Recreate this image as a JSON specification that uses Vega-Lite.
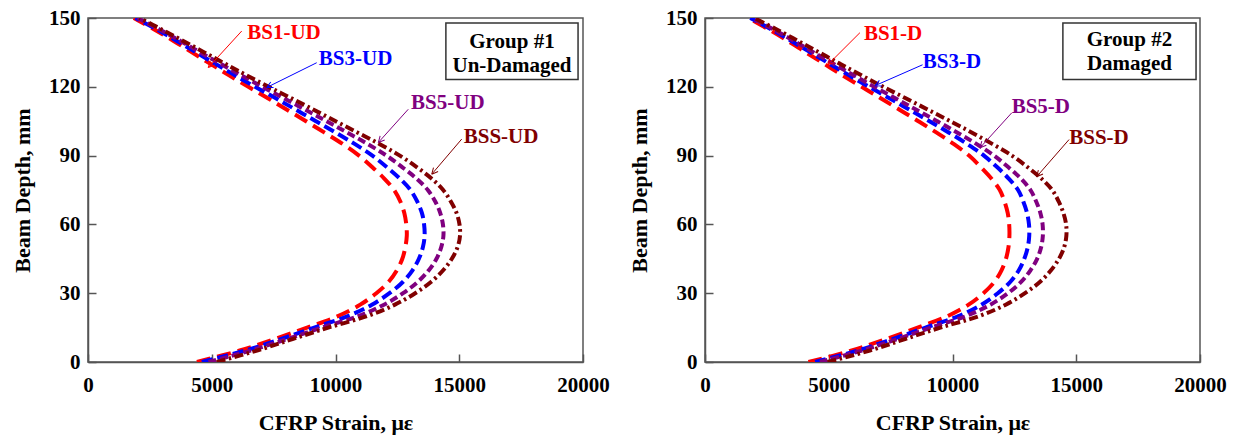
{
  "$schema": "https://vega.github.io/schema/vega-lite/v6.json",
  "padding": {"left": 10, "top": 6, "right": 5, "bottom": 5},
  "spacing": 122,
  "bounds": "flush",
  "datasets": {
    "ud": [
      {"series":"BS1","depth":0,"strain":4400},{"series":"BS1","depth":5,"strain":6130},{"series":"BS1","depth":10,"strain":7550},{"series":"BS1","depth":15,"strain":8850},{"series":"BS1","depth":20,"strain":10100},{"series":"BS1","depth":25,"strain":11000},{"series":"BS1","depth":30,"strain":11650},{"series":"BS1","depth":35,"strain":12150},{"series":"BS1","depth":40,"strain":12480},{"series":"BS1","depth":45,"strain":12700},{"series":"BS1","depth":50,"strain":12820},{"series":"BS1","depth":55,"strain":12880},{"series":"BS1","depth":60,"strain":12860},{"series":"BS1","depth":65,"strain":12780},{"series":"BS1","depth":70,"strain":12620},{"series":"BS1","depth":75,"strain":12370},{"series":"BS1","depth":80,"strain":11970},{"series":"BS1","depth":85,"strain":11480},{"series":"BS1","depth":90,"strain":10950},{"series":"BS1","depth":95,"strain":10300},{"series":"BS1","depth":100,"strain":9560},{"series":"BS1","depth":105,"strain":8810},{"series":"BS1","depth":110,"strain":8040},{"series":"BS1","depth":115,"strain":7270},{"series":"BS1","depth":120,"strain":6480},{"series":"BS1","depth":125,"strain":5700},{"series":"BS1","depth":130,"strain":4950},{"series":"BS1","depth":135,"strain":4200},{"series":"BS1","depth":140,"strain":3460},{"series":"BS1","depth":145,"strain":2680},{"series":"BS1","depth":150,"strain":1850},
      {"series":"BS3","depth":0,"strain":4600},{"series":"BS3","depth":5,"strain":6350},{"series":"BS3","depth":10,"strain":7790},{"series":"BS3","depth":15,"strain":9140},{"series":"BS3","depth":20,"strain":10500},{"series":"BS3","depth":25,"strain":11470},{"series":"BS3","depth":30,"strain":12180},{"series":"BS3","depth":35,"strain":12730},{"series":"BS3","depth":40,"strain":13110},{"series":"BS3","depth":45,"strain":13370},{"series":"BS3","depth":50,"strain":13530},{"series":"BS3","depth":55,"strain":13600},{"series":"BS3","depth":60,"strain":13580},{"series":"BS3","depth":65,"strain":13490},{"series":"BS3","depth":70,"strain":13300},{"series":"BS3","depth":75,"strain":13030},{"series":"BS3","depth":80,"strain":12600},{"series":"BS3","depth":85,"strain":12070},{"series":"BS3","depth":90,"strain":11490},{"series":"BS3","depth":95,"strain":10790},{"series":"BS3","depth":100,"strain":10010},{"series":"BS3","depth":105,"strain":9210},{"series":"BS3","depth":110,"strain":8400},{"series":"BS3","depth":115,"strain":7590},{"series":"BS3","depth":120,"strain":6750},{"series":"BS3","depth":125,"strain":5940},{"series":"BS3","depth":130,"strain":5150},{"series":"BS3","depth":135,"strain":4370},{"series":"BS3","depth":140,"strain":3590},{"series":"BS3","depth":145,"strain":2780},{"series":"BS3","depth":150,"strain":1920},
      {"series":"BS5","depth":0,"strain":4870},{"series":"BS5","depth":5,"strain":6570},{"series":"BS5","depth":10,"strain":8040},{"series":"BS5","depth":15,"strain":9440},{"series":"BS5","depth":20,"strain":10910},{"series":"BS5","depth":25,"strain":11960},{"series":"BS5","depth":30,"strain":12730},{"series":"BS5","depth":35,"strain":13330},{"series":"BS5","depth":40,"strain":13770},{"series":"BS5","depth":45,"strain":14080},{"series":"BS5","depth":50,"strain":14270},{"series":"BS5","depth":55,"strain":14360},{"series":"BS5","depth":60,"strain":14340},{"series":"BS5","depth":65,"strain":14230},{"series":"BS5","depth":70,"strain":14030},{"series":"BS5","depth":75,"strain":13730},{"series":"BS5","depth":80,"strain":13270},{"series":"BS5","depth":85,"strain":12690},{"series":"BS5","depth":90,"strain":12060},{"series":"BS5","depth":95,"strain":11310},{"series":"BS5","depth":100,"strain":10480},{"series":"BS5","depth":105,"strain":9640},{"series":"BS5","depth":110,"strain":8780},{"series":"BS5","depth":115,"strain":7920},{"series":"BS5","depth":120,"strain":7040},{"series":"BS5","depth":125,"strain":6190},{"series":"BS5","depth":130,"strain":5360},{"series":"BS5","depth":135,"strain":4540},{"series":"BS5","depth":140,"strain":3730},{"series":"BS5","depth":145,"strain":2890},{"series":"BS5","depth":150,"strain":2000},
      {"series":"BSS","depth":0,"strain":5200},{"series":"BSS","depth":5,"strain":6830},{"series":"BSS","depth":10,"strain":8260},{"series":"BSS","depth":15,"strain":9710},{"series":"BSS","depth":20,"strain":11280},{"series":"BSS","depth":25,"strain":12400},{"series":"BSS","depth":30,"strain":13220},{"series":"BSS","depth":35,"strain":13870},{"series":"BSS","depth":40,"strain":14350},{"series":"BSS","depth":45,"strain":14700},{"series":"BSS","depth":50,"strain":14930},{"series":"BSS","depth":55,"strain":15030},{"series":"BSS","depth":60,"strain":15010},{"series":"BSS","depth":65,"strain":14890},{"series":"BSS","depth":70,"strain":14660},{"series":"BSS","depth":75,"strain":14350},{"series":"BSS","depth":80,"strain":13880},{"series":"BSS","depth":85,"strain":13280},{"series":"BSS","depth":90,"strain":12600},{"series":"BSS","depth":95,"strain":11790},{"series":"BSS","depth":100,"strain":10900},{"series":"BSS","depth":105,"strain":10010},{"series":"BSS","depth":110,"strain":9120},{"series":"BSS","depth":115,"strain":8220},{"series":"BSS","depth":120,"strain":7300},{"series":"BSS","depth":125,"strain":6410},{"series":"BSS","depth":130,"strain":5550},{"series":"BSS","depth":135,"strain":4700},{"series":"BSS","depth":140,"strain":3850},{"series":"BSS","depth":145,"strain":2980},{"series":"BSS","depth":150,"strain":2080}
    ],
    "dm": [
      {"series":"BS1","depth":0,"strain":4180},{"series":"BS1","depth":5,"strain":5930},{"series":"BS1","depth":10,"strain":7320},{"series":"BS1","depth":15,"strain":8590},{"series":"BS1","depth":20,"strain":9800},{"series":"BS1","depth":25,"strain":10650},{"series":"BS1","depth":30,"strain":11250},{"series":"BS1","depth":35,"strain":11700},{"series":"BS1","depth":40,"strain":11980},{"series":"BS1","depth":45,"strain":12160},{"series":"BS1","depth":50,"strain":12260},{"series":"BS1","depth":55,"strain":12300},{"series":"BS1","depth":60,"strain":12290},{"series":"BS1","depth":65,"strain":12230},{"series":"BS1","depth":70,"strain":12100},{"series":"BS1","depth":75,"strain":11910},{"series":"BS1","depth":80,"strain":11570},{"series":"BS1","depth":85,"strain":11140},{"series":"BS1","depth":90,"strain":10670},{"series":"BS1","depth":95,"strain":10060},{"series":"BS1","depth":100,"strain":9360},{"series":"BS1","depth":105,"strain":8620},{"series":"BS1","depth":110,"strain":7860},{"series":"BS1","depth":115,"strain":7100},{"series":"BS1","depth":120,"strain":6330},{"series":"BS1","depth":125,"strain":5560},{"series":"BS1","depth":130,"strain":4820},{"series":"BS1","depth":135,"strain":4080},{"series":"BS1","depth":140,"strain":3350},{"series":"BS1","depth":145,"strain":2580},{"series":"BS1","depth":150,"strain":1750},
      {"series":"BS3","depth":0,"strain":4450},{"series":"BS3","depth":5,"strain":6170},{"series":"BS3","depth":10,"strain":7580},{"series":"BS3","depth":15,"strain":8910},{"series":"BS3","depth":20,"strain":10240},{"series":"BS3","depth":25,"strain":11170},{"series":"BS3","depth":30,"strain":11830},{"series":"BS3","depth":35,"strain":12340},{"series":"BS3","depth":40,"strain":12680},{"series":"BS3","depth":45,"strain":12900},{"series":"BS3","depth":50,"strain":13040},{"series":"BS3","depth":55,"strain":13100},{"series":"BS3","depth":60,"strain":13090},{"series":"BS3","depth":65,"strain":13010},{"series":"BS3","depth":70,"strain":12860},{"series":"BS3","depth":75,"strain":12650},{"series":"BS3","depth":80,"strain":12270},{"series":"BS3","depth":85,"strain":11800},{"series":"BS3","depth":90,"strain":11270},{"series":"BS3","depth":95,"strain":10600},{"series":"BS3","depth":100,"strain":9860},{"series":"BS3","depth":105,"strain":9070},{"series":"BS3","depth":110,"strain":8260},{"series":"BS3","depth":115,"strain":7450},{"series":"BS3","depth":120,"strain":6630},{"series":"BS3","depth":125,"strain":5820},{"series":"BS3","depth":130,"strain":5040},{"series":"BS3","depth":135,"strain":4260},{"series":"BS3","depth":140,"strain":3490},{"series":"BS3","depth":145,"strain":2690},{"series":"BS3","depth":150,"strain":1830},
      {"series":"BS5","depth":0,"strain":4640},{"series":"BS5","depth":5,"strain":6340},{"series":"BS5","depth":10,"strain":7770},{"series":"BS5","depth":15,"strain":9130},{"series":"BS5","depth":20,"strain":10540},{"series":"BS5","depth":25,"strain":11530},{"series":"BS5","depth":30,"strain":12240},{"series":"BS5","depth":35,"strain":12780},{"series":"BS5","depth":40,"strain":13150},{"series":"BS5","depth":45,"strain":13420},{"series":"BS5","depth":50,"strain":13580},{"series":"BS5","depth":55,"strain":13650},{"series":"BS5","depth":60,"strain":13640},{"series":"BS5","depth":65,"strain":13550},{"series":"BS5","depth":70,"strain":13380},{"series":"BS5","depth":75,"strain":13150},{"series":"BS5","depth":80,"strain":12760},{"series":"BS5","depth":85,"strain":12250},{"series":"BS5","depth":90,"strain":11680},{"series":"BS5","depth":95,"strain":10980},{"series":"BS5","depth":100,"strain":10200},{"series":"BS5","depth":105,"strain":9380},{"series":"BS5","depth":110,"strain":8540},{"series":"BS5","depth":115,"strain":7690},{"series":"BS5","depth":120,"strain":6840},{"series":"BS5","depth":125,"strain":6010},{"series":"BS5","depth":130,"strain":5200},{"series":"BS5","depth":135,"strain":4390},{"series":"BS5","depth":140,"strain":3590},{"series":"BS5","depth":145,"strain":2770},{"series":"BS5","depth":150,"strain":1900},
      {"series":"BSS","depth":0,"strain":4950},{"series":"BSS","depth":5,"strain":6660},{"series":"BSS","depth":10,"strain":8080},{"series":"BSS","depth":15,"strain":9510},{"series":"BSS","depth":20,"strain":11070},{"series":"BSS","depth":25,"strain":12150},{"series":"BSS","depth":30,"strain":12930},{"series":"BSS","depth":35,"strain":13540},{"series":"BSS","depth":40,"strain":13980},{"series":"BSS","depth":45,"strain":14300},{"series":"BSS","depth":50,"strain":14510},{"series":"BSS","depth":55,"strain":14600},{"series":"BSS","depth":60,"strain":14590},{"series":"BSS","depth":65,"strain":14480},{"series":"BSS","depth":70,"strain":14290},{"series":"BSS","depth":75,"strain":14030},{"series":"BSS","depth":80,"strain":13590},{"series":"BSS","depth":85,"strain":13030},{"series":"BSS","depth":90,"strain":12400},{"series":"BSS","depth":95,"strain":11620},{"series":"BSS","depth":100,"strain":10790},{"series":"BSS","depth":105,"strain":9910},{"series":"BSS","depth":110,"strain":9010},{"series":"BSS","depth":115,"strain":8110},{"series":"BSS","depth":120,"strain":7200},{"series":"BSS","depth":125,"strain":6320},{"series":"BSS","depth":130,"strain":5460},{"series":"BSS","depth":135,"strain":4610},{"series":"BSS","depth":140,"strain":3760},{"series":"BSS","depth":145,"strain":2900},{"series":"BSS","depth":150,"strain":1990}
    ],
    "lab_ud": [
      {"series":"BS1","text":"BS1-UD","strain":7920,"depth":143.6},
      {"series":"BS3","text":"BS3-UD","strain":10810,"depth":132.1},
      {"series":"BS5","text":"BS5-UD","strain":14540,"depth":112.8},
      {"series":"BSS","text":"BSS-UD","strain":16690,"depth":98.2}
    ],
    "arr_ud": [
      {"series":"BS1","strain":6210,"depth":144.3,"strain2":4860,"depth2":128.4,"ang":132},
      {"series":"BS3","strain":9240,"depth":130.5,"strain2":7220,"depth2":119.7,"ang":153},
      {"series":"BS5","strain":12940,"depth":110.2,"strain2":11730,"depth2":95.7,"ang":132},
      {"series":"BSS","strain":15100,"depth":97.2,"strain2":13890,"depth2":81.9,"ang":131}
    ],
    "lab_dm": [
      {"series":"BS1","text":"BS1-D","strain":7600,"depth":143.0},
      {"series":"BS3","text":"BS3-D","strain":9980,"depth":130.6},
      {"series":"BS5","text":"BS5-D","strain":13570,"depth":111.2},
      {"series":"BSS","text":"BSS-D","strain":15920,"depth":97.7}
    ],
    "arr_dm": [
      {"series":"BS1","strain":6260,"depth":143.6,"strain2":4960,"depth2":129.6,"ang":135},
      {"series":"BS3","strain":8790,"depth":129.6,"strain2":6870,"depth2":120.5,"ang":156},
      {"series":"BS5","strain":12390,"depth":108.6,"strain2":11110,"depth2":93.4,"ang":132},
      {"series":"BSS","strain":14710,"depth":97.0,"strain2":13400,"depth2":80.8,"ang":131}
    ],
    "box_ud": [{"strain":14460,"strain2":19800,"depth":147.8,"depth2":123.2,"l1":"Group #1","l2":"Un-Damaged","mid":17130,"d1":139.7,"d2":129.1}],
    "box_dm": [{"strain":14460,"strain2":19840,"depth":147.8,"depth2":123.2,"l1":"Group #2","l2":"Damaged","mid":17150,"d1":140.4,"d2":130.0}]
  },
  "hconcat": [
    {
      "width": 495, "height": 344,
      "layer": [
        {
          "data": {"name": "ud"},
          "mark": {"type": "line", "strokeWidth": 4, "interpolate": "catmull-rom", "clip": true},
          "encoding": {
            "x": {"field": "strain", "type": "quantitative", "scale": {"domain": [0, 20000], "nice": false}, "axis": {"title": "CFRP Strain, με", "values": [0, 5000, 10000, 15000, 20000], "format": "d"}},
            "y": {"field": "depth", "type": "quantitative", "scale": {"domain": [0, 150], "nice": false}, "axis": {"title": "Beam Depth, mm", "values": [0, 30, 60, 90, 120, 150], "format": "d"}},
            "order": {"field": "depth", "type": "quantitative"},
            "color": {"field": "series", "type": "nominal", "scale": {"domain": ["BS1", "BS3", "BS5", "BSS"], "range": ["#ff0000", "#0000ff", "#800080", "#800000"]}, "legend": null},
            "strokeDash": {"field": "series", "type": "nominal", "scale": {"domain": ["BS1", "BS3", "BS5", "BSS"], "range": [[14, 7], [11, 5], [8, 4], [9, 3.5, 2.5, 3.5]]}, "legend": null}
          }
        },
        {
          "data": {"name": "arr_ud"},
          "mark": {"type": "rule", "strokeWidth": 1},
          "encoding": {
            "x": {"field": "strain", "type": "quantitative"}, "y": {"field": "depth", "type": "quantitative"},
            "x2": {"field": "strain2"}, "y2": {"field": "depth2"},
            "color": {"field": "series", "type": "nominal", "legend": null}
          }
        },
        {
          "data": {"name": "arr_ud"},
          "mark": {"type": "point", "shape": "M0,0L-1,-0.5M0,0L-1,0.5", "filled": false, "size": 150, "strokeWidth": 1, "opacity": 1},
          "encoding": {
            "x": {"field": "strain2", "type": "quantitative"}, "y": {"field": "depth2", "type": "quantitative"},
            "angle": {"field": "ang", "type": "quantitative", "scale": null},
            "color": {"field": "series", "type": "nominal", "legend": null}
          }
        },
        {
          "data": {"name": "lab_ud"},
          "mark": {"type": "text", "align": "center", "baseline": "middle"},
          "encoding": {
            "x": {"field": "strain", "type": "quantitative"}, "y": {"field": "depth", "type": "quantitative"},
            "text": {"field": "text"},
            "color": {"field": "series", "type": "nominal", "legend": null}
          }
        },
        {
          "data": {"name": "box_ud"},
          "mark": {"type": "rect", "fill": "white", "stroke": "#333333", "strokeWidth": 1.5},
          "encoding": {
            "x": {"field": "strain", "type": "quantitative"}, "x2": {"field": "strain2"},
            "y": {"field": "depth", "type": "quantitative"}, "y2": {"field": "depth2"}
          }
        },
        {
          "data": {"name": "box_ud"},
          "mark": {"type": "text", "align": "center", "baseline": "middle", "color": "black"},
          "encoding": {"x": {"field": "mid", "type": "quantitative"}, "y": {"field": "d1", "type": "quantitative"}, "text": {"field": "l1"}}
        },
        {
          "data": {"name": "box_ud"},
          "mark": {"type": "text", "align": "center", "baseline": "middle", "color": "black"},
          "encoding": {"x": {"field": "mid", "type": "quantitative"}, "y": {"field": "d2", "type": "quantitative"}, "text": {"field": "l2"}}
        }
      ]
    },
    {
      "width": 495, "height": 344,
      "layer": [
        {
          "data": {"name": "dm"},
          "mark": {"type": "line", "strokeWidth": 4, "interpolate": "catmull-rom", "clip": true},
          "encoding": {
            "x": {"field": "strain", "type": "quantitative", "scale": {"domain": [0, 20000], "nice": false}, "axis": {"title": "CFRP Strain, με", "values": [0, 5000, 10000, 15000, 20000], "format": "d"}},
            "y": {"field": "depth", "type": "quantitative", "scale": {"domain": [0, 150], "nice": false}, "axis": {"title": "Beam Depth, mm", "values": [0, 30, 60, 90, 120, 150], "format": "d"}},
            "order": {"field": "depth", "type": "quantitative"},
            "color": {"field": "series", "type": "nominal", "scale": {"domain": ["BS1", "BS3", "BS5", "BSS"], "range": ["#ff0000", "#0000ff", "#800080", "#800000"]}, "legend": null},
            "strokeDash": {"field": "series", "type": "nominal", "scale": {"domain": ["BS1", "BS3", "BS5", "BSS"], "range": [[14, 7], [11, 5], [8, 4], [9, 3.5, 2.5, 3.5]]}, "legend": null}
          }
        },
        {
          "data": {"name": "arr_dm"},
          "mark": {"type": "rule", "strokeWidth": 1},
          "encoding": {
            "x": {"field": "strain", "type": "quantitative"}, "y": {"field": "depth", "type": "quantitative"},
            "x2": {"field": "strain2"}, "y2": {"field": "depth2"},
            "color": {"field": "series", "type": "nominal", "legend": null}
          }
        },
        {
          "data": {"name": "arr_dm"},
          "mark": {"type": "point", "shape": "M0,0L-1,-0.5M0,0L-1,0.5", "filled": false, "size": 150, "strokeWidth": 1, "opacity": 1},
          "encoding": {
            "x": {"field": "strain2", "type": "quantitative"}, "y": {"field": "depth2", "type": "quantitative"},
            "angle": {"field": "ang", "type": "quantitative", "scale": null},
            "color": {"field": "series", "type": "nominal", "legend": null}
          }
        },
        {
          "data": {"name": "lab_dm"},
          "mark": {"type": "text", "align": "center", "baseline": "middle"},
          "encoding": {
            "x": {"field": "strain", "type": "quantitative"}, "y": {"field": "depth", "type": "quantitative"},
            "text": {"field": "text"},
            "color": {"field": "series", "type": "nominal", "legend": null}
          }
        },
        {
          "data": {"name": "box_dm"},
          "mark": {"type": "rect", "fill": "white", "stroke": "#333333", "strokeWidth": 1.5},
          "encoding": {
            "x": {"field": "strain", "type": "quantitative"}, "x2": {"field": "strain2"},
            "y": {"field": "depth", "type": "quantitative"}, "y2": {"field": "depth2"}
          }
        },
        {
          "data": {"name": "box_dm"},
          "mark": {"type": "text", "align": "center", "baseline": "middle", "color": "black"},
          "encoding": {"x": {"field": "mid", "type": "quantitative"}, "y": {"field": "d1", "type": "quantitative"}, "text": {"field": "l1"}}
        },
        {
          "data": {"name": "box_dm"},
          "mark": {"type": "text", "align": "center", "baseline": "middle", "color": "black"},
          "encoding": {"x": {"field": "mid", "type": "quantitative"}, "y": {"field": "d2", "type": "quantitative"}, "text": {"field": "l2"}}
        }
      ]
    }
  ],
  "config": {
    "font": "Liberation Serif",
    "view": {"stroke": "#555555", "strokeWidth": 1.5},
    "axis": {
      "grid": false,
      "labelFont": "Liberation Serif", "labelFontSize": 21, "labelFontWeight": "bold", "labelColor": "#000000",
      "titleFont": "Liberation Serif", "titleFontSize": 22, "titleFontWeight": "bold", "titleColor": "#000000",
      "domainColor": "#555555", "domainWidth": 1.5, "tickColor": "#555555", "tickWidth": 1.5, "tickSize": -8,
      "labelFlush": false, "labelOverlap": false
    },
    "axisX": {"labelPadding": 20, "titlePadding": 17},
    "axisY": {"labelPadding": 16, "titlePadding": 14},
    "text": {"font": "Liberation Serif", "fontWeight": "bold", "fontSize": 21}
  }
}
